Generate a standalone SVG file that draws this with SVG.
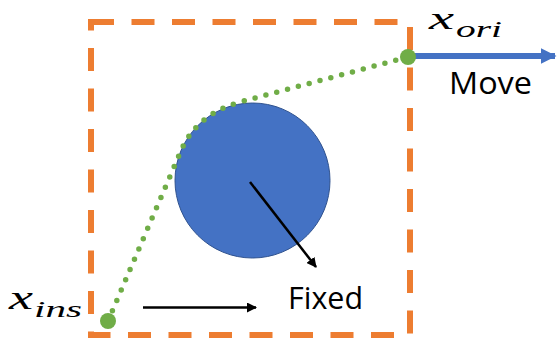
<svg xmlns="http://www.w3.org/2000/svg" width="557" height="345" viewBox="0 0 557 345">
<style>
.lbl{font-family:"Open Sans","Liberation Sans",sans-serif;font-size:31px;fill:#000}
.math{font-family:"Liberation Serif","DejaVu Serif",serif;font-style:italic;fill:#000}
</style>
<defs>
<marker id="ahBlack" viewBox="0 0 10 10" refX="9" refY="5" markerWidth="4" markerHeight="4" markerUnits="strokeWidth" orient="auto">
<path d="M0,0 L10,5 L0,10 z" fill="#000"/>
</marker>
<marker id="ahBlue" viewBox="0 0 10 10" refX="9" refY="5" markerWidth="2.6" markerHeight="2.8" markerUnits="strokeWidth" orient="auto">
<path d="M0,0 L10,5 L0,10 z" fill="#4472C4"/>
</marker>
</defs>
<g id="box">
<rect x="91" y="22" width="319" height="313" fill="none" stroke="#ED7D31" stroke-width="6" stroke-dasharray="23 17.5"/>
</g>
<g id="obstacle">
<circle cx="252.5" cy="180.5" r="77.5" fill="#4472C4" stroke="#2F528F" stroke-width="1"/>
</g>
<g id="connectors">
<path id="trajectory" d="M108,321 L180,153 Q195,115 240,102 L408,57" fill="none" stroke="#70AD47" stroke-width="5.5" stroke-linecap="round" stroke-dasharray="0 11.2"/>
<line x1="408" y1="56" x2="555" y2="56" stroke="#4472C4" stroke-width="6" marker-end="url(#ahBlue)"/>
<line x1="250" y1="182" x2="316" y2="267" stroke="#000" stroke-width="2.5" marker-end="url(#ahBlack)"/>
<line x1="143" y1="307.5" x2="256" y2="307.5" stroke="#000" stroke-width="2.5" marker-end="url(#ahBlack)"/>
</g>
<g id="x-ins">
<circle cx="108" cy="321" r="8" fill="#70AD47"/>
<text class="math" x="9" y="309" font-size="34" textLength="24" lengthAdjust="spacingAndGlyphs">x</text>
<text class="math" x="34" y="317" font-size="24" textLength="48" lengthAdjust="spacingAndGlyphs">ins</text>
</g>
<g id="x-ori">
<circle cx="408" cy="57" r="8" fill="#70AD47"/>
<text class="math" x="429" y="29" font-size="32" textLength="25" lengthAdjust="spacingAndGlyphs">x</text>
<text class="math" x="456" y="37" font-size="24" textLength="46" lengthAdjust="spacingAndGlyphs">ori</text>
</g>
<g id="move-label">
<text class="lbl" x="449" y="94" textLength="83" lengthAdjust="spacingAndGlyphs">Move</text>
</g>
<g id="fixed-label">
<text class="lbl" x="288" y="309" textLength="75" lengthAdjust="spacingAndGlyphs">Fixed</text>
</g>
</svg>
